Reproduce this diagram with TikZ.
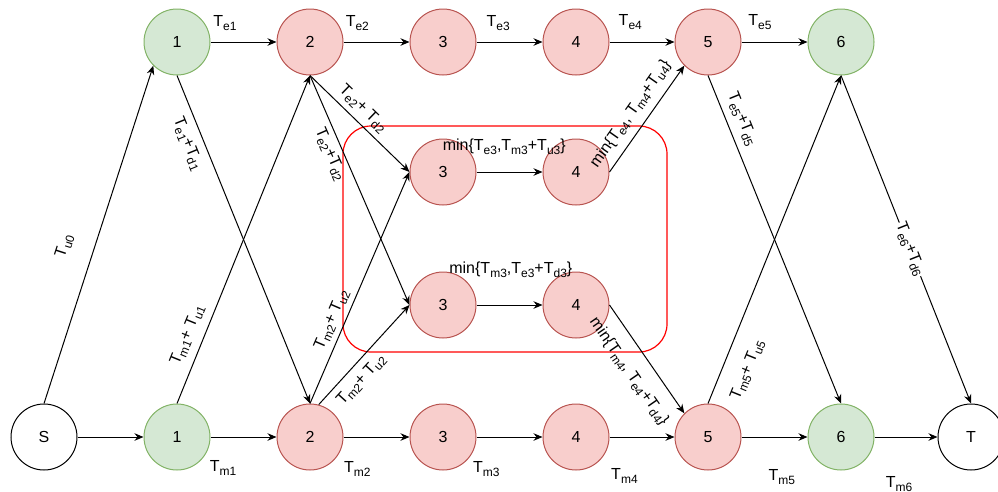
\documentclass[tikz,border=0pt]{standalone}
\usepackage{fontspec}
\setmainfont{Liberation Sans}
\usetikzlibrary{arrows.meta}
\definecolor{grnfill}{HTML}{D5E8D4}
\definecolor{grndraw}{HTML}{82B366}
\definecolor{redfill}{HTML}{F8CECC}
\definecolor{reddraw}{HTML}{B85450}
\tikzset{
  circnode/.style={circle, minimum size=66pt, inner sep=0pt, line width=1pt, font=\fontsize{16}{19}\selectfont},
  grnnode/.style={circnode, fill=grnfill, draw=grndraw},
  rednode/.style={circnode, fill=redfill, draw=reddraw},
  endnode/.style={circnode, fill=white, draw=black},
  arr/.style={-{Stealth[length=9pt,width=7.5pt]}, line width=1pt},
  lbl/.style={font=\fontsize{16}{19}\selectfont, inner sep=1pt},
}
\newcommand{\tsub}[1]{T\raisebox{-3.5pt}{\fontsize{12}{14}\selectfont #1}}
\begin{document}
\begin{tikzpicture}[x=1pt,y=-1pt]
\useasboundingbox (0,0) rectangle (998,491);

\draw[red, line width=1.2pt, rounded corners=28pt] (343,126) rectangle (667,352); % red box

% nodes
\node[endnode] (snode) at (44,437) {S};
\node[endnode] (tnode) at (971,437) {T};
\foreach \i/\x in {2/310,3/443,4/576,5/708} {
  \node[rednode] (e\i) at (\x,42) {\i};
  \node[rednode] (m\i) at (\x,437) {\i};
}
\foreach \i/\x in {1/177,6/841} {
  \node[grnnode] (e\i) at (\x,42) {\i};
  \node[grnnode] (m\i) at (\x,437) {\i};
}
\node[rednode] (a3) at (443,172) {3};
\node[rednode] (a4) at (576,172) {4};
\node[rednode] (b3) at (443,305) {3};
\node[rednode] (b4) at (576,305) {4};

% top row
\draw[arr] (e1.east) -- node[lbl, pos=0.22, yshift=19pt] {\tsub{e1}} (e2.west);
\draw[arr] (e2.east) -- node[lbl, pos=0.21, yshift=19pt] {\tsub{e2}} (e3.west);
\draw[arr] (e3.east) -- node[lbl, pos=0.33, yshift=19pt] {\tsub{e3}} (e4.west);
\draw[arr] (e4.east) -- node[lbl, pos=0.32, yshift=20pt] {\tsub{e4}} (e5.west);
\draw[arr] (e5.east) -- node[lbl, pos=0.28, yshift=20pt] {\tsub{e5}} (e6.west);

% bottom row
\draw[arr] (snode.east) -- (m1.west);
\draw[arr] (m1.east) -- node[lbl, pos=0.19, yshift=-31pt] {\tsub{m1}} (m2.west);
\draw[arr] (m2.east) -- node[lbl, pos=0.21, yshift=-32pt] {\tsub{m2}} (m3.west);
\draw[arr] (m3.east) -- node[lbl, pos=0.15, yshift=-32pt] {\tsub{m3}} (m4.west);
\draw[arr] (m4.east) -- node[lbl, pos=0.23, yshift=-39pt] {\tsub{m4}} (m5.west);
\draw[arr] (m5.east) -- node[lbl, pos=0.61, yshift=-40pt] {\tsub{m5}} (m6.west);
\draw[arr] (m6.east) -- node[lbl, pos=0.39, yshift=-47pt] {\tsub{m6}} (tnode.west);

% crossing edges
\draw[arr] (snode.north) -- node[lbl, sloped, pos=0.44, yshift=29pt] {\tsub{u0}} (e1.south west);
\draw[arr] (e1.south) -- node[lbl, sloped, pos=0.19, yshift=-16pt] {\tsub{e1}+\tsub{d1}} (m2.north);
\draw[arr] (m1.north) -- node[lbl, sloped, pos=0.19, yshift=16pt] {\tsub{m1}+ \tsub{u1}} (e2.south);
\draw[arr] (e2.south) -- node[lbl, sloped, pos=0.44, yshift=13pt] {\tsub{e2}+ \tsub{d2}} (a3.west);
\draw[arr] (e2.south) -- node[lbl, sloped, pos=0.32, yshift=-13pt] {\tsub{e2}+\tsub{d2}} (b3.west);
\draw[arr] (m2.north) -- node[lbl, sloped, pos=0.34, yshift=13pt] {\tsub{m2}+ \tsub{u2}} (a3.west);
\draw[arr] (m2.75) -- node[lbl, sloped, pos=0.35, yshift=-15pt] {\tsub{m2}+ \tsub{u2}} (b3.west);

% inside the box
\draw[arr] (a3) -- node[lbl, pos=0.42, yshift=25pt] {min\{\tsub{e3},\tsub{m3}+\tsub{u3}\}} (a4);
\draw[arr] (b3) -- node[lbl, pos=0.52, yshift=35pt] {min\{\tsub{m3},\tsub{e3}+\tsub{d3}\}} (b4);
\draw[arr] (a4.east) -- node[lbl, sloped, pos=0.46, yshift=16pt] {min\{\tsub{e4}, \tsub{m4}+\tsub{u4}\}} (e5.south west);
\draw[arr] (b4.east) -- node[lbl, sloped, pos=0.50, yshift=-22pt] {min\{\tsub{m4}, \tsub{e4}+\tsub{d4}\}} (m5.north west);

% right side
\draw[arr] (e5.south) -- node[lbl, sloped, pos=0.15, yshift=15pt] {\tsub{e5}+\tsub{d5}} (m6.north);
\draw[arr] (m5.north) -- node[lbl, sloped, pos=0.13, yshift=-24pt] {\tsub{m5}+ \tsub{u5}} (e6.south);
\draw[arr] (e6.south) -- node[lbl, sloped, pos=0.53, fill=white] {\tsub{e6}+\tsub{d6}} (tnode.north);

\end{tikzpicture}
\end{document}
